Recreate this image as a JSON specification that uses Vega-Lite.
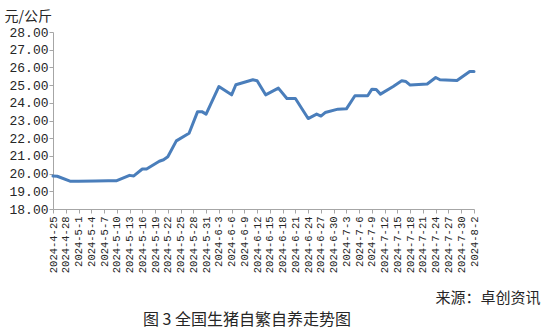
{
  "$schema": "https://vega.github.io/schema/vega-lite/v6.json",
  "width": 421,
  "height": 177,
  "autosize": {"type": "none"},
  "padding": {"left": 53, "top": 32, "right": 72, "bottom": 121},
  "background": "#ffffff",
  "title": {
    "text": "图 3 全国生猪自繁自养走势图",
    "orient": "bottom",
    "anchor": "start",
    "frame": "group",
    "dx": 90,
    "offset": 7,
    "font": "Noto Sans CJK SC",
    "fontSize": 16,
    "fontWeight": "normal",
    "color": "#262626"
  },
  "config": {
    "view": {"stroke": null},
    "axis": {"grid": false}
  },
  "data": {
    "values": [
      {"date": "2024-04-25", "price": 19.86},
      {"date": "2024-04-26", "price": 19.85},
      {"date": "2024-04-29", "price": 19.57},
      {"date": "2024-05-01", "price": 19.57},
      {"date": "2024-05-05", "price": 19.58},
      {"date": "2024-05-08", "price": 19.6},
      {"date": "2024-05-10", "price": 19.6},
      {"date": "2024-05-13", "price": 19.9},
      {"date": "2024-05-14", "price": 19.87},
      {"date": "2024-05-16", "price": 20.26},
      {"date": "2024-05-17", "price": 20.26},
      {"date": "2024-05-20", "price": 20.7},
      {"date": "2024-05-21", "price": 20.78},
      {"date": "2024-05-22", "price": 20.95},
      {"date": "2024-05-24", "price": 21.85},
      {"date": "2024-05-27", "price": 22.28},
      {"date": "2024-05-29", "price": 23.5},
      {"date": "2024-05-30", "price": 23.5},
      {"date": "2024-05-31", "price": 23.36},
      {"date": "2024-06-03", "price": 24.92},
      {"date": "2024-06-06", "price": 24.45},
      {"date": "2024-06-07", "price": 25.02},
      {"date": "2024-06-11", "price": 25.3},
      {"date": "2024-06-12", "price": 25.25},
      {"date": "2024-06-14", "price": 24.45},
      {"date": "2024-06-17", "price": 24.83},
      {"date": "2024-06-19", "price": 24.24},
      {"date": "2024-06-21", "price": 24.24},
      {"date": "2024-06-24", "price": 23.11},
      {"date": "2024-06-26", "price": 23.36},
      {"date": "2024-06-27", "price": 23.25},
      {"date": "2024-06-28", "price": 23.45},
      {"date": "2024-07-01", "price": 23.64},
      {"date": "2024-07-03", "price": 23.66},
      {"date": "2024-07-05", "price": 24.4},
      {"date": "2024-07-08", "price": 24.4},
      {"date": "2024-07-09", "price": 24.77},
      {"date": "2024-07-10", "price": 24.75},
      {"date": "2024-07-11", "price": 24.49},
      {"date": "2024-07-14", "price": 24.92},
      {"date": "2024-07-16", "price": 25.24},
      {"date": "2024-07-17", "price": 25.2},
      {"date": "2024-07-18", "price": 25.0},
      {"date": "2024-07-22", "price": 25.06},
      {"date": "2024-07-24", "price": 25.43},
      {"date": "2024-07-25", "price": 25.3},
      {"date": "2024-07-29", "price": 25.26},
      {"date": "2024-08-01", "price": 25.77},
      {"date": "2024-08-02", "price": 25.77}
    ]
  },
  "mark": {"type": "line", "color": "#4a7ebb", "strokeWidth": 3, "strokeJoin": "round", "strokeCap": "round"},
  "encoding": {
    "x": {
      "field": "date",
      "type": "temporal",
      "scale": {
        "type": "utc",
        "domain": [
          {"year": 2024, "month": 4, "date": 25, "utc": true},
          {"year": 2024, "month": 8, "date": 2, "utc": true}
        ]
      },
      "axis": {
        "values": [
          {"year": 2024, "month": 4, "date": 25, "utc": true},
          {"year": 2024, "month": 4, "date": 28, "utc": true},
          {"year": 2024, "month": 5, "date": 1, "utc": true},
          {"year": 2024, "month": 5, "date": 4, "utc": true},
          {"year": 2024, "month": 5, "date": 7, "utc": true},
          {"year": 2024, "month": 5, "date": 10, "utc": true},
          {"year": 2024, "month": 5, "date": 13, "utc": true},
          {"year": 2024, "month": 5, "date": 16, "utc": true},
          {"year": 2024, "month": 5, "date": 19, "utc": true},
          {"year": 2024, "month": 5, "date": 22, "utc": true},
          {"year": 2024, "month": 5, "date": 25, "utc": true},
          {"year": 2024, "month": 5, "date": 28, "utc": true},
          {"year": 2024, "month": 5, "date": 31, "utc": true},
          {"year": 2024, "month": 6, "date": 3, "utc": true},
          {"year": 2024, "month": 6, "date": 6, "utc": true},
          {"year": 2024, "month": 6, "date": 9, "utc": true},
          {"year": 2024, "month": 6, "date": 12, "utc": true},
          {"year": 2024, "month": 6, "date": 15, "utc": true},
          {"year": 2024, "month": 6, "date": 18, "utc": true},
          {"year": 2024, "month": 6, "date": 21, "utc": true},
          {"year": 2024, "month": 6, "date": 24, "utc": true},
          {"year": 2024, "month": 6, "date": 27, "utc": true},
          {"year": 2024, "month": 6, "date": 30, "utc": true},
          {"year": 2024, "month": 7, "date": 3, "utc": true},
          {"year": 2024, "month": 7, "date": 6, "utc": true},
          {"year": 2024, "month": 7, "date": 9, "utc": true},
          {"year": 2024, "month": 7, "date": 12, "utc": true},
          {"year": 2024, "month": 7, "date": 15, "utc": true},
          {"year": 2024, "month": 7, "date": 18, "utc": true},
          {"year": 2024, "month": 7, "date": 21, "utc": true},
          {"year": 2024, "month": 7, "date": 24, "utc": true},
          {"year": 2024, "month": 7, "date": 27, "utc": true},
          {"year": 2024, "month": 7, "date": 30, "utc": true},
          {"year": 2024, "month": 8, "date": 2, "utc": true}
        ],
        "labelExpr": "utcFormat(datum.value, '%Y-%-m-%-d')",
        "labelAngle": -90,
        "labelFont": "Liberation Mono",
        "labelFontSize": 10.5,
        "labelColor": "#262626",
        "labelPadding": 3,
        "labelOverlap": false,
        "labelBound": false,
        "labelFlush": false,
        "domainColor": "#a6a6a6",
        "tickColor": "#a6a6a6",
        "tickSize": 4,
        "title": "来源：卓创资讯",
        "titleFont": "Noto Sans CJK SC",
        "titleFontSize": 15,
        "titleFontWeight": "normal",
        "titleColor": "#262626",
        "titleAlign": "right",
        "titleAnchor": null,
        "titleBaseline": "alphabetic",
        "titleX": 487,
        "titleY": 93
      }
    },
    "y": {
      "field": "price",
      "type": "quantitative",
      "scale": {"domain": [18, 28], "nice": false, "zero": false},
      "axis": {
        "values": [18, 19, 20, 21, 22, 23, 24, 25, 26, 27, 28],
        "format": ".2f",
        "labelFont": "Liberation Mono",
        "labelFontSize": 13,
        "labelColor": "#262626",
        "labelPadding": 1,
        "domainColor": "#a6a6a6",
        "tickColor": "#a6a6a6",
        "tickSize": 4,
        "title": "元/公斤",
        "titleFont": "Noto Sans CJK SC",
        "titleFontSize": 14,
        "titleFontWeight": "normal",
        "titleColor": "#262626",
        "titleAngle": 0,
        "titleAlign": "left",
        "titleBaseline": "alphabetic",
        "titleAnchor": null,
        "titleX": -49,
        "titleY": -12
      }
    }
  }
}
